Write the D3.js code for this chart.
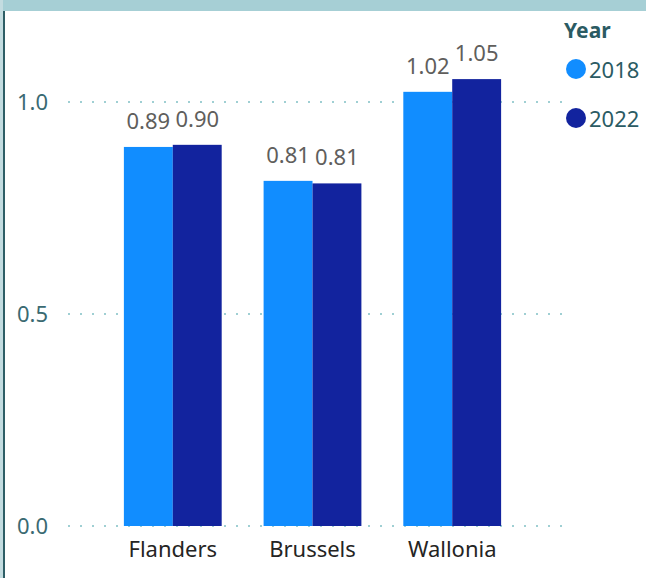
<!DOCTYPE html>
<html>
<head>
<meta charset="utf-8">
<script src="https://cdn.jsdelivr.net/npm/d3@7"></script>
<style>
  body { margin: 0; background: #fff; }
  svg { display: block; font-family: "Segoe UI", "Noto Sans", sans-serif; }
</style>
</head>
<body>
<div class="canvas"></div>
<script>
// data
const regions = ['Flanders', 'Brussels', 'Wallonia'];
const years = ['2018', '2022'];
const values2018 = [0.894, 0.814, 1.024];
const values2022 = [0.899, 0.808, 1.054];
const yTicks = [0, 0.5, 1.0];

const COLORS = {'2018': '#118DFF', '2022': '#12239E'};

const width = 646, height = 578;

const svg = d3.select('.canvas')
  .append('svg')
    .attr('width', width)
    .attr('height', height);

// frame: teal band on top, border on the left
svg.append('rect').attr('x', 0).attr('y', 0).attr('width', width).attr('height', 11).attr('fill', '#A6CFD5');
svg.append('rect').attr('x', 0).attr('y', 0).attr('width', 3).attr('height', height).attr('fill', '#C3DCE0');
svg.append('rect').attr('x', 3).attr('y', 11).attr('width', 2).attr('height', height).attr('fill', '#2E5E66');

const data = regions.map((r, i) => ({region: r, '2018': values2018[i], '2022': values2022[i]}));

const x = d3.scaleBand()
  .domain(regions)
  .range([68, 557])
  .paddingInner(0.3)
  .paddingOuter(0.4);

const xSub = d3.scaleBand()
  .domain(years)
  .range([0, x.bandwidth()]);

const y = d3.scaleLinear()
  .domain([0, 1])
  .range([526, 102]);

// dotted gridlines
svg.append('g')
  .selectAll('line')
  .data(yTicks)
  .enter().append('line')
    .attr('x1', 68)
    .attr('x2', 565)
    .attr('y1', d => y(d))
    .attr('y2', d => y(d))
    .attr('stroke', '#9FCFD3')
    .attr('stroke-width', 2)
    .attr('stroke-dasharray', '2,10');

// y axis labels
const yAxis = svg.append('g')
  .attr('transform', 'translate(48,0)')
  .call(d3.axisLeft(y).tickValues(yTicks).tickFormat(d3.format('.1f')).tickSize(0).tickPadding(0));
yAxis.select('.domain').remove();
yAxis.selectAll('text')
  .attr('font-size', 22)
  .attr('font-family', '"Segoe UI", "Noto Sans", sans-serif')
  .attr('fill', '#3A6A72');

// bars
const groups = svg.append('g')
  .selectAll('g')
  .data(data)
  .enter().append('g')
    .attr('transform', d => `translate(${x(d.region)},0)`);

groups.selectAll('rect')
  .data(d => years.map(yr => ({year: yr, value: d[yr]})))
  .enter().append('rect')
    .attr('x', d => xSub(d.year))
    .attr('y', d => y(d.value))
    .attr('width', xSub.bandwidth())
    .attr('height', d => y(0) - y(d.value))
    .attr('fill', d => COLORS[d.year]);

groups.selectAll('text')
  .data(d => years.map(yr => ({year: yr, value: d[yr]})))
  .enter().append('text')
    .attr('x', d => xSub(d.year) + xSub.bandwidth() / 2)
    .attr('y', d => y(d.value) - 18)
    .attr('text-anchor', 'middle')
    .attr('font-size', 22)
    .attr('fill', '#605E5C')
    .text(d => d.value.toFixed(2));

// category labels
const xAxis = svg.append('g')
  .attr('transform', 'translate(0,526)')
  .call(d3.axisBottom(x).tickSize(0).tickPadding(15));
xAxis.select('.domain').remove();
xAxis.selectAll('text')
  .attr('font-size', 22)
  .attr('font-family', '"Segoe UI", "Noto Sans", sans-serif')
  .attr('fill', '#252423');

// legend
const legend = svg.append('g');
legend.append('text')
  .attr('x', 564)
  .attr('y', 38)
  .attr('font-size', 21)
  .attr('font-weight', 'bold')
  .attr('fill', '#2B5B63')
  .text('Year');

const items = legend.selectAll('.item')
  .data(years)
  .enter().append('g')
    .attr('class', 'item')
    .attr('transform', (d, i) => `translate(0,${69 + i * 49})`);
items.append('circle')
  .attr('cx', 576)
  .attr('cy', 0)
  .attr('r', 10)
  .attr('fill', d => COLORS[d]);
items.append('text')
  .attr('x', 589)
  .attr('y', 9)
  .attr('font-size', 22)
  .attr('fill', '#2B5B63')
  .text(d => d);
</script>
</body>
</html>
